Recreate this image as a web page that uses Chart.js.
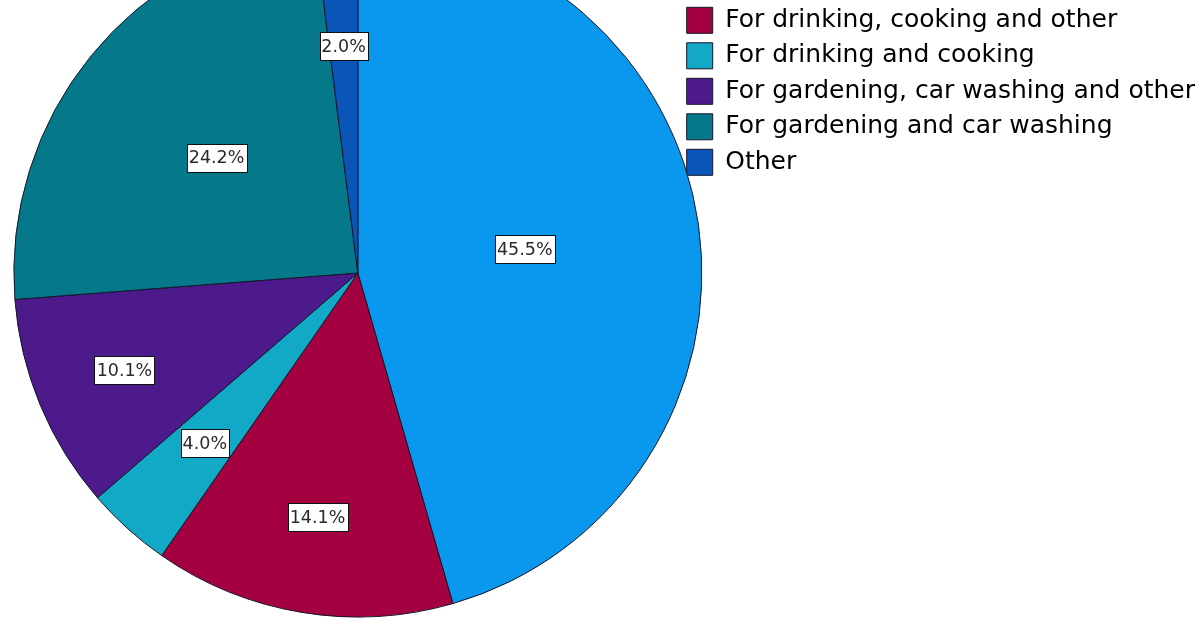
<!DOCTYPE html>
<html>
<head>
<meta charset="utf-8">
<title>Water use pie chart</title>
<script src="https://cdn.jsdelivr.net/npm/chart.js"></script>
<style>
  html, body { margin: 0; padding: 0; background: #fff; overflow: hidden; }
  #wrap { position: relative; width: 1200px; height: 630px; overflow: hidden; }
  #chart { position: absolute; left: 0; top: -80px; }
</style>
</head>
<body>
<div id="wrap">
  <canvas id="chart" width="1205" height="710"></canvas>
</div>
<script>
// categories, clockwise from 12 o'clock
const categories = [
  'For all purposes',
  'For drinking, cooking and other',
  'For drinking and cooking',
  'For gardening, car washing and other',
  'For gardening and car washing',
  'Other'
];
// percent of respondents
const shares = [45.5, 14.1, 4.0, 10.1, 24.2, 2.0];
const sliceLabels = ['45.5%', '14.1%', '4.0%', '10.1%', '24.2%', '2.0%'];

const sliceColors = ['#0A97EE', '#A40140', '#12A9C6', '#4D1A8C', '#05788A', '#0A55B8'];
// how far out (fraction of radius) each value box sits
const labelRadius = [0.49, 0.72, 0.665, 0.735, 0.53, 0.66];

const valueBoxes = {
  id: 'valueBoxes',
  afterDatasetsDraw(chart) {
    const ctx = chart.ctx;
    const meta = chart.getDatasetMeta(0);
    ctx.save();
    ctx.font = '17.5px "DejaVu Sans", sans-serif';
    ctx.textAlign = 'center';
    ctx.textBaseline = 'middle';
    meta.data.forEach((arc, i) => {
      const p = arc.getProps(['x', 'y', 'startAngle', 'endAngle', 'outerRadius'], true);
      const mid = (p.startAngle + p.endAngle) / 2;
      const r = p.outerRadius * labelRadius[i];
      const cx = p.x + Math.cos(mid) * r;
      const cy = p.y + Math.sin(mid) * r;
      const w = Math.round(ctx.measureText(sliceLabels[i]).width + 4);
      const h = 28;
      const left = Math.round(cx - w / 2) + 0.5;
      const top = Math.round(cy - h / 2) + 0.5;
      ctx.fillStyle = '#ffffff';
      ctx.fillRect(left, top, w, h);
      ctx.strokeStyle = '#111111';
      ctx.lineWidth = 1;
      ctx.strokeRect(left, top, w, h);
      ctx.fillStyle = '#2a2a2a';
      ctx.fillText(sliceLabels[i], cx, cy + 1);
    });
    ctx.restore();
  }
};

new Chart(document.getElementById('chart'), {
  type: 'pie',
  data: {
    labels: categories,
    datasets: [{
      data: shares,
      backgroundColor: sliceColors,
      borderColor: '#15152a',
      borderWidth: 1,
      radius: 344
    }]
  },
  options: {
    responsive: false,
    animation: false,
    layout: {
      padding: { left: 38.5, right: 0, top: 42.3, bottom: 46.3 }
    },
    plugins: {
      tooltip: { enabled: false },
      legend: {
        position: 'right',
        align: 'start',
        labels: {
          boxWidth: 26,
          boxHeight: 26,
          padding: 9.5,
          color: '#000000',
          font: { family: '"DejaVu Sans", sans-serif', size: 25 }
        }
      }
    }
  },
  plugins: [valueBoxes]
});
</script>
</body>
</html>
